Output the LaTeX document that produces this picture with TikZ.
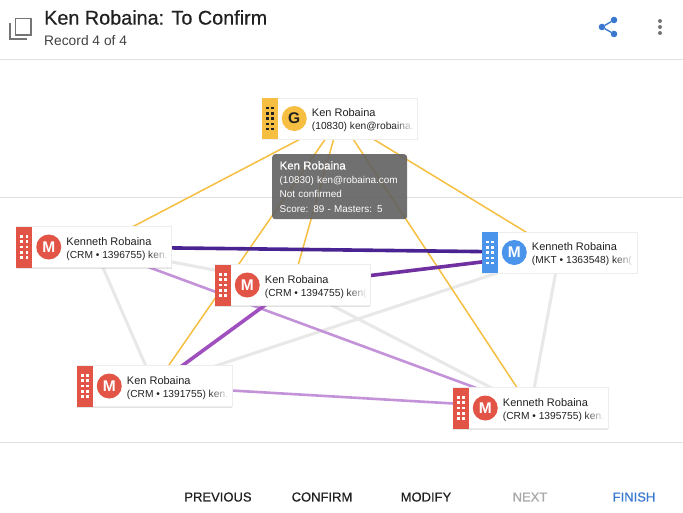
\documentclass[tikz,border=0pt]{standalone}
\usepackage{fontspec}
\setmainfont{Liberation Sans}
\newfontface\mediumface[FakeBold=0.5]{Liberation Sans}
\usetikzlibrary{backgrounds}
\usetikzlibrary{calc}
\usetikzlibrary{fadings}
\usetikzlibrary{shadows}
\definecolor{rulegray}{RGB}{224,224,224}
\definecolor{linkgray}{RGB}{232,232,232}
\definecolor{inkgray}{RGB}{117,117,117}
\definecolor{textdark}{RGB}{33,33,33}
\definecolor{textsub}{RGB}{66,66,66}
\definecolor{nextgray}{RGB}{168,168,168}
\definecolor{tipgray}{RGB}{97,97,97}
\definecolor{goldcard}{RGB}{246,191,65}
\definecolor{redcard}{RGB}{226,84,70}
\definecolor{bluecard}{RGB}{74,148,236}
\definecolor{actionblue}{RGB}{58,120,208}
\definecolor{purpledark}{RGB}{74,35,146}
\definecolor{purplemid}{RGB}{112,48,160}
\definecolor{purplesoft}{RGB}{160,80,190}
\definecolor{purplelight}{RGB}{196,146,216}
\newcommand{\cardname}[1]{{\fontsize{11}{13}\selectfont #1}}
\newcommand{\carddetail}[1]{{\fontsize{10.2}{13}\selectfont #1}}
\tikzset{
    card/.style={draw=black!7, line width=.5pt, fill=white, minimum width=155pt, minimum height=41pt, inner sep=0pt,
        drop shadow={shadow xshift=0pt, shadow yshift=-1pt, opacity=.22}},
    strip/.style={anchor=west, minimum width=16pt, minimum height=41pt, inner sep=0pt,
        path picture={
            \foreach \dx in {-2.7,2.7}
                \foreach \dy in {-10.6,-5.3,0,5.3,10.6}
                    \fill[#1] ([shift={(\dx-1.3,\dy-1.3)}]path picture bounding box.center) rectangle ++(2.6,2.6);
        }
    },
    badge/.style={circle, minimum size=25pt, inner sep=0pt, text=white, font=\bfseries\fontsize{15.5}{16}\selectfont},
    cardtext/.style={anchor=west, inner sep=0pt, align=left, text=textdark, yshift=-1.6pt},
    link/.style={line width=#1},
    button/.style={inner sep=0pt, font=\mediumface\fontsize{13}{14}\selectfont},
    rule/.style={rulegray, line width=1pt}
}
\begin{document}
\begin{tikzpicture}[x=1pt, y=-1pt]
        \useasboundingbox (0,0) rectangle (683,512);

        \node[card] (G) at (339.5,118.5) {};
        \node[card] (K1) at (94,247) {};
        \node[card] (K2) at (292.5,285) {};
        \node[card] (M) at (559.5,252.5) {};
        \node[card] (K3) at (154.5,386) {};
        \node[card] (K4) at (530.5,408) {};

        \path
            (G.west) node[strip=textdark, fill=goldcard] (G-strip) {}
            to ++(0:32.5) node[badge, fill=goldcard, text=textdark] (G-badge) {G}
            to ++(0:17.5) node[cardtext] (G-text) {\cardname{Ken Robaina}\\[1pt]\carddetail{(10830) ken@robaina.}};
        \path
            (K1.west) node[strip=white, fill=redcard] (K1-strip) {}
            to ++(0:32.5) node[badge, fill=redcard] (K1-badge) {M}
            to ++(0:17.5) node[cardtext] (K1-text) {\cardname{Kenneth Robaina}\\[1pt]\carddetail{(CRM • 1396755) ken.}};
        \path
            (K2.west) node[strip=white, fill=redcard] (K2-strip) {}
            to ++(0:32.5) node[badge, fill=redcard] (K2-badge) {M}
            to ++(0:17.5) node[cardtext] (K2-text) {\cardname{Ken Robaina}\\[1pt]\carddetail{(CRM • 1394755) ken(}};
        \path
            (M.west) node[strip=white, fill=bluecard] (M-strip) {}
            to ++(0:32.5) node[badge, fill=bluecard] (M-badge) {M}
            to ++(0:17.5) node[cardtext] (M-text) {\cardname{Kenneth Robaina}\\[1pt]\carddetail{(MKT • 1363548) ken(}};
        \path
            (K3.west) node[strip=white, fill=redcard] (K3-strip) {}
            to ++(0:32.5) node[badge, fill=redcard] (K3-badge) {M}
            to ++(0:17.5) node[cardtext] (K3-text) {\cardname{Ken Robaina}\\[1pt]\carddetail{(CRM • 1391755) ken.}};
        \path
            (K4.west) node[strip=white, fill=redcard] (K4-strip) {}
            to ++(0:32.5) node[badge, fill=redcard] (K4-badge) {M}
            to ++(0:17.5) node[cardtext] (K4-text) {\cardname{Kenneth Robaina}\\[1pt]\carddetail{(CRM • 1395755) ken.}};

        % text runs out under a fade at the card edge
        \foreach \c in {G,K1,K2,M,K3,K4}
            \fill[white, path fading=west] ($(\c.east)+(-24,0)$) rectangle ($(\c.east)+(-3,18)$);

        \begin{scope}[on background layer]
            \fill[white] (0,0) rectangle (683,512);
            \draw[rule] (0,59.5) -- (683,59.5);
            \draw[rule] (0,197.5) -- (683,197.5);
            \draw[rule] (0,442.5) -- (683,442.5);
            \draw[link=3pt, linkgray] (K1.center) -- (K2.center);
            \draw[link=3pt, linkgray] (K1.center) -- (K3.center);
            \draw[link=3pt, linkgray] (K2.center) -- (K4.center);
            \draw[link=3pt, linkgray] (K3.center) -- (M.center);
            \draw[link=3pt, linkgray] (M.center) -- (K4.center);
            \draw[link=1.5pt, goldcard] (G.center) -- (K1.center);
            \draw[link=1.5pt, goldcard] (G.center) -- (K2.center);
            \draw[link=1.5pt, goldcard] (G.center) -- (K3.center);
            \draw[link=1.5pt, goldcard] (G.center) -- (K4.center);
            \draw[link=1.5pt, goldcard] (G.center) -- (M.center);
            \draw[link=2.6pt, purplelight] (K1.center) -- (K4.center);
            \draw[link=2.6pt, purplelight] (K3.center) -- (K4.center);
            \draw[link=3.6pt, purplesoft] (K2.center) -- (K3.center);
            \draw[link=3.6pt, purplemid] (K2.center) -- (M.center);
            \draw[link=3.6pt, purpledark] (K1.center) -- (M.center);
        \end{scope}

        \node[anchor=north west, fill=tipgray, fill opacity=.9, text opacity=1, text=white, rounded corners=3pt,
            minimum height=65pt, text width=120pt, inner xsep=7.5pt, inner ysep=4pt, align=left,
            font=\fontsize{9.9}{14.2}\selectfont] (tip) at (272,154)
            {{\mediumface\fontsize{11.4}{14}\selectfont Ken Robaina}\\(10830) ken@robaina.com\\Not confirmed\\Score: 89 - Masters: 5};

        % header
        \node[anchor=west, inner sep=0pt, text=textdark, font=\mediumface\fontsize{19.8}{20}\selectfont] (title) at (44,17.5) {Ken Robaina: To Confirm};
        \node[anchor=west, inner sep=0pt, text=textsub, font=\fontsize{13.8}{14}\selectfont] (subtitle) at (44,41) {Record 4 of 4};
        \draw[inkgray, line width=1.8pt] (15.5,18.5) rectangle (31,35);
        \draw[inkgray, line width=1.8pt] (10,23) -- (10,39.2) -- (27,39.2);

        \node[circle, fill=actionblue, minimum size=6.6pt, inner sep=0pt] (share-l) at (602,27) {};
        \node[circle, fill=actionblue, minimum size=6.6pt, inner sep=0pt] (share-t) at (614,20) {};
        \node[circle, fill=actionblue, minimum size=6.6pt, inner sep=0pt] (share-b) at (614,34) {};
        \draw[actionblue, line width=1.4pt] (share-t) -- (share-l) -- (share-b);
        \foreach \y in {21,27,33}
            \fill[inkgray] (660,\y) circle (2pt);

        % actions
        \node[button, text=textdark] (previous) at (218,497) {PREVIOUS};
        \node[button, text=textdark] (confirm) at (322,497) {CONFIRM};
        \node[button, text=textdark] (modify) at (426,497) {MODIFY};
        \node[button, text=nextgray] (next) at (530,497) {NEXT};
        \node[button, text=actionblue] (finish) at (634,497) {FINISH};
    \end{tikzpicture}
\end{document}
